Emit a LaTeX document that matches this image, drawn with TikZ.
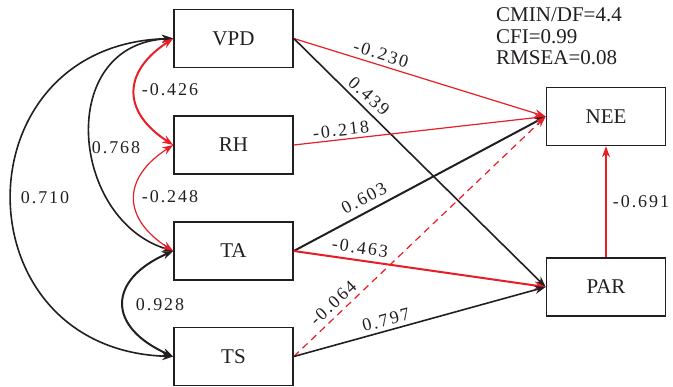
\documentclass[tikz,border=0pt]{standalone}
\usepackage{fontspec}
\setmainfont{Liberation Serif}
\newfontfamily\lblfont[LetterSpace=11]{Liberation Serif}
\usetikzlibrary{arrows.meta}
\definecolor{semred}{RGB}{232,30,38}
\definecolor{semblack}{RGB}{35,31,32}
\tikzset{
  varbox/.style={draw=semblack,line width=1.6pt,minimum width=119pt,minimum height=58pt,inner sep=0pt,font=\fontsize{21}{25}\selectfont,text=semblack},
  coef/.style={font=\lblfont\fontsize{18}{20}\selectfont,text=semblack,inner sep=0pt,anchor=center},
  stat/.style={font=\fontsize{21}{22}\selectfont,text=semblack,inner sep=0pt,anchor=base west},
  tip/.style={-{Stealth[length=11pt,width=8pt]}},
  dtip/.style={{Stealth[length=11pt,width=8pt]}-{Stealth[length=11pt,width=8pt]}},
  blk/.style={draw=semblack,line width=1.6pt},
  blkthick/.style={draw=semblack,line width=2pt},
  rthin/.style={draw=semred,line width=1.2pt},
  rthick/.style={draw=semred,line width=2pt}
}
\begin{document}
\begin{tikzpicture}[x=1pt,y=-1pt]
\useasboundingbox (0,0) rectangle (673,387);
\node[varbox] (vpd) at (233.5,38.5) {VPD};
\node[varbox] (rh) at (233.5,145) {RH};
\node[varbox] (ta) at (233.5,251) {TA};
\node[varbox] (ts) at (233.5,356.5) {TS};
\node[varbox] (nee) at (606,116.5) {NEE};
\node[varbox] (par) at (606,287) {PAR};

% covariances
\draw[blk,dtip] (vpd.west) .. controls (-42,44) and (-42,350) .. (ts.west);
\draw[blk,dtip] (vpd.west) .. controls (55,44) and (70,220) .. (ta.west);
\draw[rthick,dtip] (vpd.west) .. controls (122,72) and (122,112) .. (rh.west);
\draw[rthin,dtip] (rh.west) .. controls (122,178) and (122,218) .. (ta.west);
\draw[blkthick,dtip] (ta.west) .. controls (107,280) and (107,327) .. (ts.west);

\node[coef] (c1) at (170,90) {-0.426};
\node[coef] (c2) at (116,148) {0.768};
\node[coef] (c3) at (45,198) {0.710};
\node[coef] (c4) at (170,197) {-0.248};
\node[coef] (c5) at (160,305) {0.928};

% paths
\draw[rthin,tip] (vpd.east) -- (nee.west);
\draw[blk,tip] (vpd.east) -- (par.west);
\draw[rthin,tip] (rh.east) -- (nee.west);
\draw[blkthick,tip] (ta.east) -- (nee.west);
\draw[rthick,tip] (ta.east) -- (par.west);
\draw[rthin,dashed,dash pattern=on 7pt off 5pt,tip] (ts.east) -- (nee.west);
\draw[blk,tip] (ts.east) -- (par.west);
\draw[rthin,tip] (par.north) -- (nee.south);

\node[coef,rotate=-17] (p1) at (381,54) {-0.230};
\node[coef,rotate=-42] (p2) at (369,96) {0.439};
\node[coef,rotate=6.5] (p3) at (341,130) {-0.218};
\node[coef,rotate=27.8] (p4) at (364,198) {0.603};
\node[coef,rotate=-8] (p5) at (360,248) {-0.463};
\node[coef,rotate=43] (p6) at (333,303) {-0.064};
\node[coef,rotate=15] (p7) at (386,320) {0.797};
\node[coef] (p8) at (641,202) {-0.691};

\node[stat] (s1) at (496,22) {CMIN/DF=4.4};
\node[stat] (s2) at (496,43.5) {CFI=0.99};
\node[stat] (s3) at (496,65) {RMSEA=0.08};
\end{tikzpicture}
\end{document}
